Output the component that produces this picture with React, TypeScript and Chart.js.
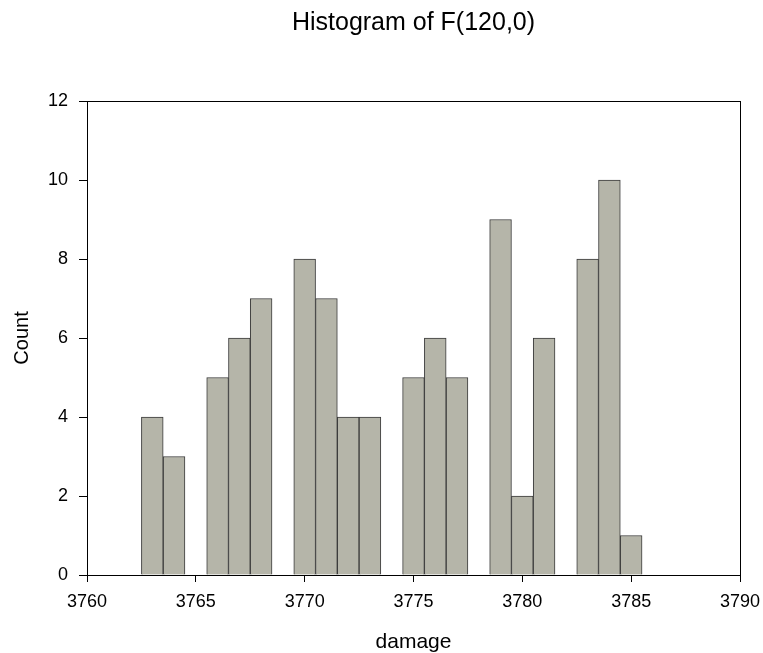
import React, { useEffect, useRef } from "react";
import { Chart, registerables } from "chart.js";

Chart.register(...registerables);

const chartTitle = "Histogram of F(120,0)";
const xAxisTitle = "damage";
const yAxisTitle = "Count";
const binCenters = [3763, 3764, 3766, 3767, 3768, 3770, 3771, 3772, 3773, 3775, 3776, 3777, 3779, 3780, 3781, 3783, 3784, 3785];
const binCounts = [4, 3, 5, 6, 7, 8, 7, 4, 4, 5, 6, 5, 9, 2, 6, 8, 10, 1];
const xRange = [3760, 3790];
const yRange = [0, 12];

const FONT = "'Liberation Sans', Arial, Helvetica, sans-serif";

const framePlugin = {
  id: "frameBox",
  afterDatasetsDraw(chart: any) {
    const { ctx, chartArea } = chart;
    ctx.save();
    ctx.strokeStyle = "#000";
    ctx.lineWidth = 1;
    ctx.strokeRect(
      Math.round(chartArea.left) + 0.5,
      Math.round(chartArea.top) + 0.5,
      Math.round(chartArea.right - chartArea.left),
      Math.round(chartArea.bottom - chartArea.top)
    );
    ctx.restore();
  },
};

export default function App() {
  const canvasRef = useRef<HTMLCanvasElement | null>(null);

  useEffect(() => {
    document.body.style.margin = "0";
    const canvas = canvasRef.current;
    if (!canvas) return;
    const data = binCenters.map((x, i) => ({ x, y: binCounts[i] }));
    const chart = new Chart(canvas, {
      type: "bar",
      data: {
        datasets: [
          {
            label: "Count",
            data: data as any,
            backgroundColor: "#B5B5A9",
            borderColor: "#3a3a3a",
            borderWidth: 1,
            barPercentage: 1,
            categoryPercentage: 1,
          },
        ],
      },
      options: {
        responsive: false,
        animation: false,
        layout: { padding: { top: 0, left: 0, right: 23, bottom: 0 } },
        plugins: {
          legend: { display: false },
          tooltip: { enabled: false },
          title: {
            display: true,
            text: chartTitle,
            fullSize: false,
            color: "#000",
            font: { family: FONT, size: 25, weight: "normal" as any, lineHeight: 1.2 },
            padding: { top: 8, bottom: 63 },
          },
        },
        scales: {
          x: {
            type: "linear",
            offset: false,
            min: xRange[0],
            max: xRange[1],
            afterFit: (s: any) => {
              s.height = 78;
              s.paddingLeft = 0;
              s.paddingRight = 0;
            },
            ticks: {
              stepSize: 5,
              color: "#000",
              padding: 9,
              maxRotation: 0,
              font: { family: FONT, size: 18 },
              callback: (v: any) => String(v),
            },
            grid: {
              offset: false,
              drawOnChartArea: false,
              drawTicks: true,
              tickLength: 7,
              color: "#000",
            },
            border: { display: true, color: "#000", width: 1 },
            title: {
              display: true,
              text: xAxisTitle,
              color: "#000",
              font: { family: FONT, size: 21, lineHeight: 1 },
              padding: { top: 0, bottom: 0 },
            },
          },
          y: {
            type: "linear",
            min: yRange[0],
            max: yRange[1],
            afterFit: (s: any) => {
              s.width = 87;
            },
            ticks: {
              stepSize: 2,
              color: "#000",
              padding: 11,
              font: { family: FONT, size: 18 },
              callback: (v: any) => String(v),
            },
            grid: {
              drawOnChartArea: false,
              drawTicks: true,
              tickLength: 8,
              color: "#000",
            },
            border: { display: true, color: "#000", width: 1 },
            title: {
              display: true,
              text: yAxisTitle,
              color: "#000",
              font: { family: FONT, size: 20, lineHeight: 1.2 },
              padding: { top: 10, bottom: 0 },
            },
          },
        },
      },
      plugins: [framePlugin],
    });
    return () => chart.destroy();
  }, []);

  return (
    <div style={{ position: "absolute", left: 0, top: 0, width: 763, height: 653 }}>
      <canvas ref={canvasRef} width={763} height={653} />
    </div>
  );
}
